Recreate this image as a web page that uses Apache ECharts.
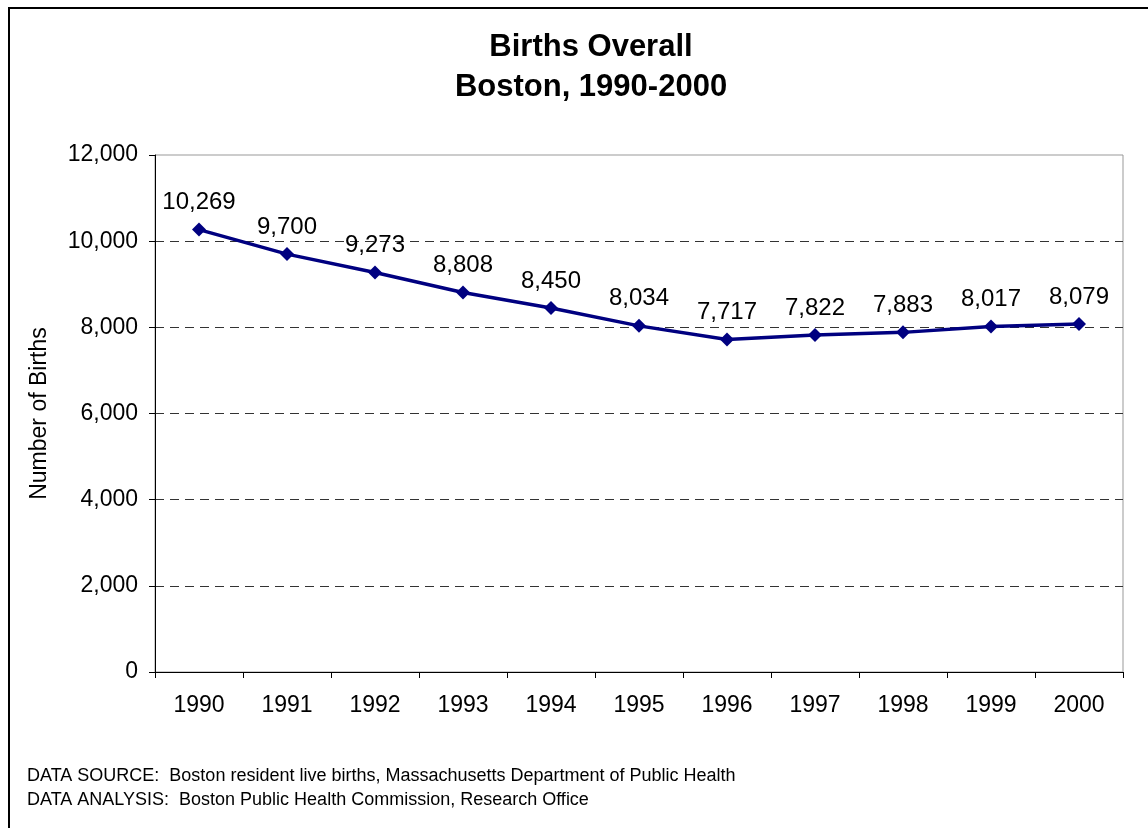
<!DOCTYPE html>
<html>
<head>
<meta charset="utf-8">
<title>Births Overall</title>
<script src="https://cdn.jsdelivr.net/npm/echarts@6/dist/echarts.min.js"></script>
<style>
  html, body { margin: 0; padding: 0; background: #fff; }
  #chart { width: 1148px; height: 828px; }
</style>
</head>
<body>
<div id="chart"></div>
<script>
// data
var years = ['1990', '1991', '1992', '1993', '1994', '1995', '1996', '1997', '1998', '1999', '2000'];
var births = [10269, 9700, 9273, 8808, 8450, 8034, 7717, 7822, 7883, 8017, 8079];
var yTicks = [0, 2000, 4000, 6000, 8000, 10000, 12000];
var footnotes = [
  'DATA SOURCE:  Boston resident live births, Massachusetts Department of Public Health',
  'DATA ANALYSIS:  Boston Public Health Commission, Research Office'
];

var font = 'Liberation Sans, Arial, sans-serif';
function fmt(v) { return Number(v).toLocaleString('en-US'); }

// split lines: dashed for inner ticks, hidden at the top (plot border draws it)
var splitColors = yTicks.map(function (t, i) {
  return i === yTicks.length - 1 ? 'rgba(0,0,0,0)' : '#333';
});

var myChart = echarts.init(document.getElementById('chart'));
var option = {
  backgroundColor: '#fff',
  animation: false,
  title: {
    text: 'Births Overall\nBoston, 1990-2000',
    left: 586,
    textAlign: 'center',
    top: 22,
    textStyle: {
      fontFamily: font,
      fontWeight: 'bold',
      fontSize: 31,
      lineHeight: 40,
      color: '#000'
    }
  },
  grid: {
    left: 155,
    right: 25,
    top: 155,
    bottom: 156,
    show: true,
    borderColor: '#999',
    borderWidth: 1
  },
  xAxis: {
    type: 'category',
    data: years,
    boundaryGap: true,
    axisLine: { lineStyle: { color: '#000', width: 1 } },
    axisTick: { show: true, length: 6, lineStyle: { color: '#000' } },
    axisLabel: { fontFamily: font, fontSize: 23, color: '#000', margin: 22 },
    splitLine: { show: false }
  },
  yAxis: {
    type: 'value',
    min: 0,
    max: 12000,
    interval: 2000,
    name: 'Number of Births',
    nameLocation: 'middle',
    nameGap: 104,
    nameRotate: 90,
    nameTextStyle: { fontFamily: font, fontSize: 23, color: '#000' },
    axisLine: { show: true, lineStyle: { color: '#000', width: 1 } },
    axisTick: { show: true, length: 6, lineStyle: { color: '#000' } },
    axisLabel: { fontFamily: font, fontSize: 23, color: '#000', margin: 17, formatter: fmt },
    splitLine: { show: true, lineStyle: { color: splitColors, type: [9, 6], width: 1 } }
  },
  series: [{
    name: 'Births',
    type: 'line',
    data: births,
    color: '#000080',
    lineStyle: { width: 3.5, color: '#000080' },
    symbol: 'diamond',
    symbolSize: 14,
    itemStyle: { color: '#000080' },
    label: {
      show: true,
      position: 'top',
      distance: 8,
      fontFamily: font,
      fontSize: 24,
      color: '#000',
      formatter: function (p) { return fmt(p.value); }
    }
  }],
  graphic: [
    {
      type: 'rect',
      shape: { x: 9, y: 8, width: 2000, height: 2000 },
      style: { fill: 'none', stroke: '#000', lineWidth: 2 },
      silent: true
    },
    {
      type: 'text',
      left: 27,
      top: 764,
      style: {
        text: footnotes.join('\n'),
        font: '18px ' + font,
        lineHeight: 24,
        fill: '#000'
      }
    }
  ]
};
myChart.setOption(option);
</script>
</body>
</html>
